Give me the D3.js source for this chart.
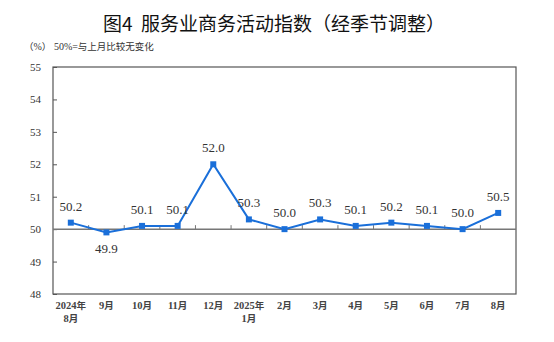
<!DOCTYPE html>
<html lang="en"><head><meta charset="utf-8">
<script src="https://cdn.jsdelivr.net/npm/d3@7"></script>
<style>
body{margin:0;background:#fff;}
svg{display:block;}
.serif{font-family:"Liberation Serif","Times New Roman",serif;}
.cjk{font-family:"Noto Sans CJK SC",sans-serif;}
</style></head>
<body>
<script>
// Services business activity index, seasonally adjusted
const months = ["2024年|8月","9月","10月","11月","12月","2025年|1月","2月","3月","4月","5月","6月","7月","8月"];
const values = [50.2,49.9,50.1,50.1,52.0,50.3,50.0,50.3,50.1,50.2,50.1,50.0,50.5];
const yTicks = [48,49,50,51,52,53,54,55];

const W=554,H=342;
const m={left:53,right:38,top:67,bottom:48};
const svg=d3.select("body").append("svg").attr("width",W).attr("height",H);

// write a string as runs of Latin (serif) and CJK (sans) tspans
function runs(sel,str,cjkScale){
  const parts=str.match(/[\x00-\x7f]+|[^\x00-\x7f]+/g)||[];
  parts.forEach(p=>{
    const latin=/^[\x00-\x7f]/.test(p);
    const t=sel.append("tspan").attr("class",latin?"serif":"cjk").text(p);
    if(!latin&&cjkScale) t.attr("font-size",cjkScale);
  });
}

svg.append("text").attr("class","cjk").attr("x",103).attr("y",31)
  .attr("font-size",19).attr("fill","#111")
  .text("图4\u00a0\u00a0服务业商务活动指数（经季节调整）");
const sub=svg.append("text").attr("x",24).attr("y",50).attr("font-size",10).attr("fill","#333");
runs(sub,"（%） 50%=与上月比较无变化",9.5);

const x=d3.scaleBand().domain(months.map((d,i)=>i)).range([m.left,W-m.right]);
const y=d3.scaleLinear().domain([48,55]).range([H-m.bottom,m.top]);
const cx=i=>x(i)+x.bandwidth()/2;

// plot frame
svg.append("rect").attr("x",m.left).attr("y",m.top)
  .attr("width",W-m.left-m.right).attr("height",H-m.top-m.bottom)
  .attr("fill","none").attr("stroke","#555").attr("stroke-width",1.2);

// y axis
const ya=svg.append("g").attr("transform",`translate(${m.left},0)`)
  .call(d3.axisLeft(y).tickValues(yTicks).tickSize(-4).tickPadding(12).tickFormat(d3.format("d")));
ya.select(".domain").remove();
ya.selectAll("line").attr("stroke","#555");
ya.selectAll("text").attr("class","serif").attr("font-family",null).attr("font-size",11).attr("fill","#333");

// baseline at 50 with band ticks
svg.append("line").attr("x1",m.left).attr("x2",W-m.right)
  .attr("y1",y(50)).attr("y2",y(50)).attr("stroke","#777").attr("stroke-width",1.5);
svg.append("g").selectAll("line").data(months.slice(1)).join("line")
  .attr("x1",(d,i)=>x(i+1)).attr("x2",(d,i)=>x(i+1))
  .attr("y1",y(50)).attr("y2",y(50)-4).attr("stroke","#777");

// x labels, one text per line
const xg=svg.append("g");
months.forEach((d,i)=>{
  d.split("|").forEach((p,j)=>{
    const t=xg.append("text").attr("x",cx(i)).attr("y",H-m.bottom+15+j*13)
      .attr("text-anchor","middle").attr("font-size",10.5).attr("font-weight","bold").attr("fill","#444");
    runs(t,p,9.5);
  });
});

// line and markers
const blue="#1a6fd9";
svg.append("path").datum(values)
  .attr("d",d3.line().x((d,i)=>cx(i)).y(d=>y(d)))
  .attr("fill","none").attr("stroke",blue).attr("stroke-width",2);
svg.append("g").selectAll("rect").data(values).join("rect")
  .attr("x",(d,i)=>cx(i)-3).attr("y",d=>y(d)-3).attr("width",6).attr("height",6).attr("fill",blue);

// value labels
svg.append("g").selectAll("text").data(values).join("text")
  .attr("class","serif")
  .attr("x",(d,i)=>cx(i)).attr("y",(d,i)=>d<50?y(d)+21:y(d)-12)
  .attr("text-anchor","middle").attr("font-size",13)
  .attr("fill","#333").text(d=>d.toFixed(1));
</script>
</body></html>
